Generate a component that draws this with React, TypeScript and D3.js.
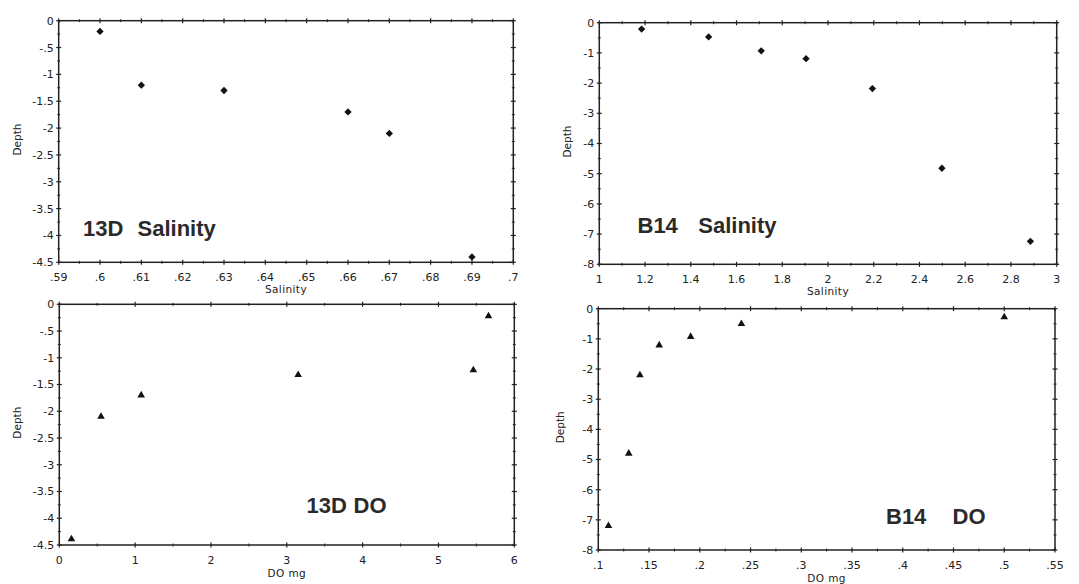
import React from "react";
import * as d3 from "d3";

// ---- data ----
const sal13D_x = [0.6, 0.61, 0.63, 0.66, 0.67, 0.69];
const sal13D_depth = [-0.2, -1.2, -1.3, -1.7, -2.1, -4.4];

const salB14_x = [1.185, 1.478, 1.708, 1.904, 2.194, 2.498, 2.885];
const salB14_depth = [-0.21, -0.47, -0.93, -1.19, -2.18, -4.82, -7.24];

const do13D_x = [0.16, 0.55, 1.08, 3.15, 5.46, 5.66];
const do13D_depth = [-4.39, -2.1, -1.7, -1.32, -1.23, -0.22];

const doB14_x = [0.11, 0.13, 0.141, 0.16, 0.191, 0.241, 0.5];
const doB14_depth = [-7.2, -4.8, -2.2, -1.21, -0.93, -0.5, -0.28];

// ---- tick values ----
const xTicksSal13D = [0.59, 0.6, 0.61, 0.62, 0.63, 0.64, 0.65, 0.66, 0.67, 0.68, 0.69, 0.7];
const xTicksSalB14 = [1, 1.2, 1.4, 1.6, 1.8, 2, 2.2, 2.4, 2.6, 2.8, 3];
const xTicksDO13D = [0, 1, 2, 3, 4, 5, 6];
const xTicksDOB14 = [0.1, 0.15, 0.2, 0.25, 0.3, 0.35, 0.4, 0.45, 0.5, 0.55];
const yTicks13D = [0, -0.5, -1, -1.5, -2, -2.5, -3, -3.5, -4, -4.5];
const yTicksB14 = [0, -1, -2, -3, -4, -5, -6, -7, -8];

const fmt = (v: number) => {
  const s = String(+v.toFixed(4));
  return s.replace(/^(-?)0\./, "$1.");
};

type Panel = {
  xs: number[];
  ys: number[];
  xTicks: number[];
  yTicks: number[];
  marker: "diamond" | "triangle";
  box: { l: number; r: number; t: number; b: number };
  xTitle: string;
  xTitleY: number;
  depthX: number;
  label: { parts: string[]; xs: number[]; y: number };
};

const panels: Panel[] = [
  {
    xs: sal13D_x, ys: sal13D_depth, xTicks: xTicksSal13D, yTicks: yTicks13D, marker: "diamond",
    box: { l: 58.7, r: 513.3, t: 20.7, b: 262.3 },
    xTitle: "Salinity", xTitleY: 293, depthX: 21,
    label: { parts: ["13D", "Salinity"], xs: [83, 137.5], y: 236 },
  },
  {
    xs: salB14_x, ys: salB14_depth, xTicks: xTicksSalB14, yTicks: yTicksB14, marker: "diamond",
    box: { l: 599.3, r: 1056.7, t: 22.7, b: 264.3 },
    xTitle: "Salinity", xTitleY: 295, depthX: 571,
    label: { parts: ["B14", "Salinity"], xs: [637.5, 698.3], y: 233 },
  },
  {
    xs: do13D_x, ys: do13D_depth, xTicks: xTicksDO13D, yTicks: yTicks13D, marker: "triangle",
    box: { l: 59.3, r: 514.3, t: 304.3, b: 545 },
    xTitle: "DO mg", xTitleY: 576.5, depthX: 21,
    label: { parts: ["13D", "DO"], xs: [306.5, 353.5], y: 513 },
  },
  {
    xs: doB14_x, ys: doB14_depth, xTicks: xTicksDOB14, yTicks: yTicksB14, marker: "triangle",
    box: { l: 598.3, r: 1055, t: 308.7, b: 550 },
    xTitle: "DO mg", xTitleY: 582, depthX: 564,
    label: { parts: ["B14", "DO"], xs: [886, 952.5], y: 523.5 },
  },
];

const INK = "#222";
const tickFont = "'DejaVu Sans', Verdana, sans-serif";

function PanelView({ p }: { p: Panel }) {
  const { l, r, t, b } = p.box;
  const x = d3.scaleLinear().domain([p.xTicks[0], p.xTicks[p.xTicks.length - 1]]).range([l, r]);
  const y = d3.scaleLinear().domain([p.yTicks[0], p.yTicks[p.yTicks.length - 1]]).range([t, b]);
  const xMinor = d3.pairs(p.xTicks).map(([a, c]) => (a + c) / 2);
  const yMinor = d3.pairs(p.yTicks).map(([a, c]) => (a + c) / 2);
  const sym =
    p.marker === "diamond"
      ? d3.symbol().type(d3.symbolDiamond2).size(34)
      : d3.symbol().type(d3.symbolTriangle).size(25);
  const M = 2.5;
  const m = 1.5;
  return (
    <g>
      <rect x={l} y={t} width={r - l} height={b - t} fill="none" stroke={INK} strokeWidth={1.5} />
      {/* x ticks bottom & top */}
      {p.xTicks.map((v, i) => (
        <g key={"xt" + i}>
          <line x1={x(v)} x2={x(v)} y1={b - M} y2={b + M} stroke={INK} strokeWidth={1.2} />
          <line x1={x(v)} x2={x(v)} y1={t - M} y2={t + M} stroke={INK} strokeWidth={1.2} />
          <text x={x(v)} y={b + 19} textAnchor="middle" fontFamily={tickFont} fontSize={11} fill={INK}>
            {fmt(v)}
          </text>
        </g>
      ))}
      {xMinor.map((v, i) => (
        <g key={"xm" + i}>
          <line x1={x(v)} x2={x(v)} y1={b - m} y2={b + m} stroke={INK} strokeWidth={1} />
          <line x1={x(v)} x2={x(v)} y1={t - m} y2={t + m} stroke={INK} strokeWidth={1} />
        </g>
      ))}
      {/* y ticks left & right */}
      {p.yTicks.map((v, i) => (
        <g key={"yt" + i}>
          <line x1={l - M} x2={l + M} y1={y(v)} y2={y(v)} stroke={INK} strokeWidth={1.2} />
          <line x1={r - M} x2={r + M} y1={y(v)} y2={y(v)} stroke={INK} strokeWidth={1.2} />
          <text x={l - 5} y={y(v)} dy="0.36em" textAnchor="end" fontFamily={tickFont} fontSize={11} fill={INK}>
            {fmt(v)}
          </text>
        </g>
      ))}
      {yMinor.map((v, i) => (
        <g key={"ym" + i}>
          <line x1={l - m} x2={l + m} y1={y(v)} y2={y(v)} stroke={INK} strokeWidth={1} />
          <line x1={r - m} x2={r + m} y1={y(v)} y2={y(v)} stroke={INK} strokeWidth={1} />
        </g>
      ))}
      {/* axis titles */}
      <text x={(l + r) / 2} y={p.xTitleY} textAnchor="middle" fontFamily={tickFont} fontSize={10.5} letterSpacing={0.4} fill={INK}>
        {p.xTitle}
      </text>
      <text
        transform={`translate(${p.depthX},${(t + b) / 2 - 2}) rotate(-90)`}
        textAnchor="middle"
        fontFamily={tickFont}
        fontSize={10.5}
        fill={INK}
      >
        Depth
      </text>
      {/* panel label */}
      <text y={p.label.y} fontFamily="'Liberation Sans', Arial, sans-serif" fontWeight="bold" fontSize={22} fill="#2a2a2a">
        {p.label.parts.map((s, i) => (
          <tspan key={i} x={p.label.xs[i]}>
            {s}
          </tspan>
        ))}
      </text>
      {/* marks */}
      {p.xs.map((v, i) => (
        <path key={"pt" + i} d={sym() as string} transform={`translate(${x(v)},${y(p.ys[i])})`} fill="#111" />
      ))}
    </g>
  );
}

export default function App() {
  return (
    <svg
      width={1079}
      height={584}
      style={{ position: "absolute", left: 0, top: 0, background: "#fff" }}
    >
      <rect width={1079} height={584} fill="#fff" />
      {panels.map((p, i) => (
        <PanelView key={i} p={p} />
      ))}
    </svg>
  );
}
